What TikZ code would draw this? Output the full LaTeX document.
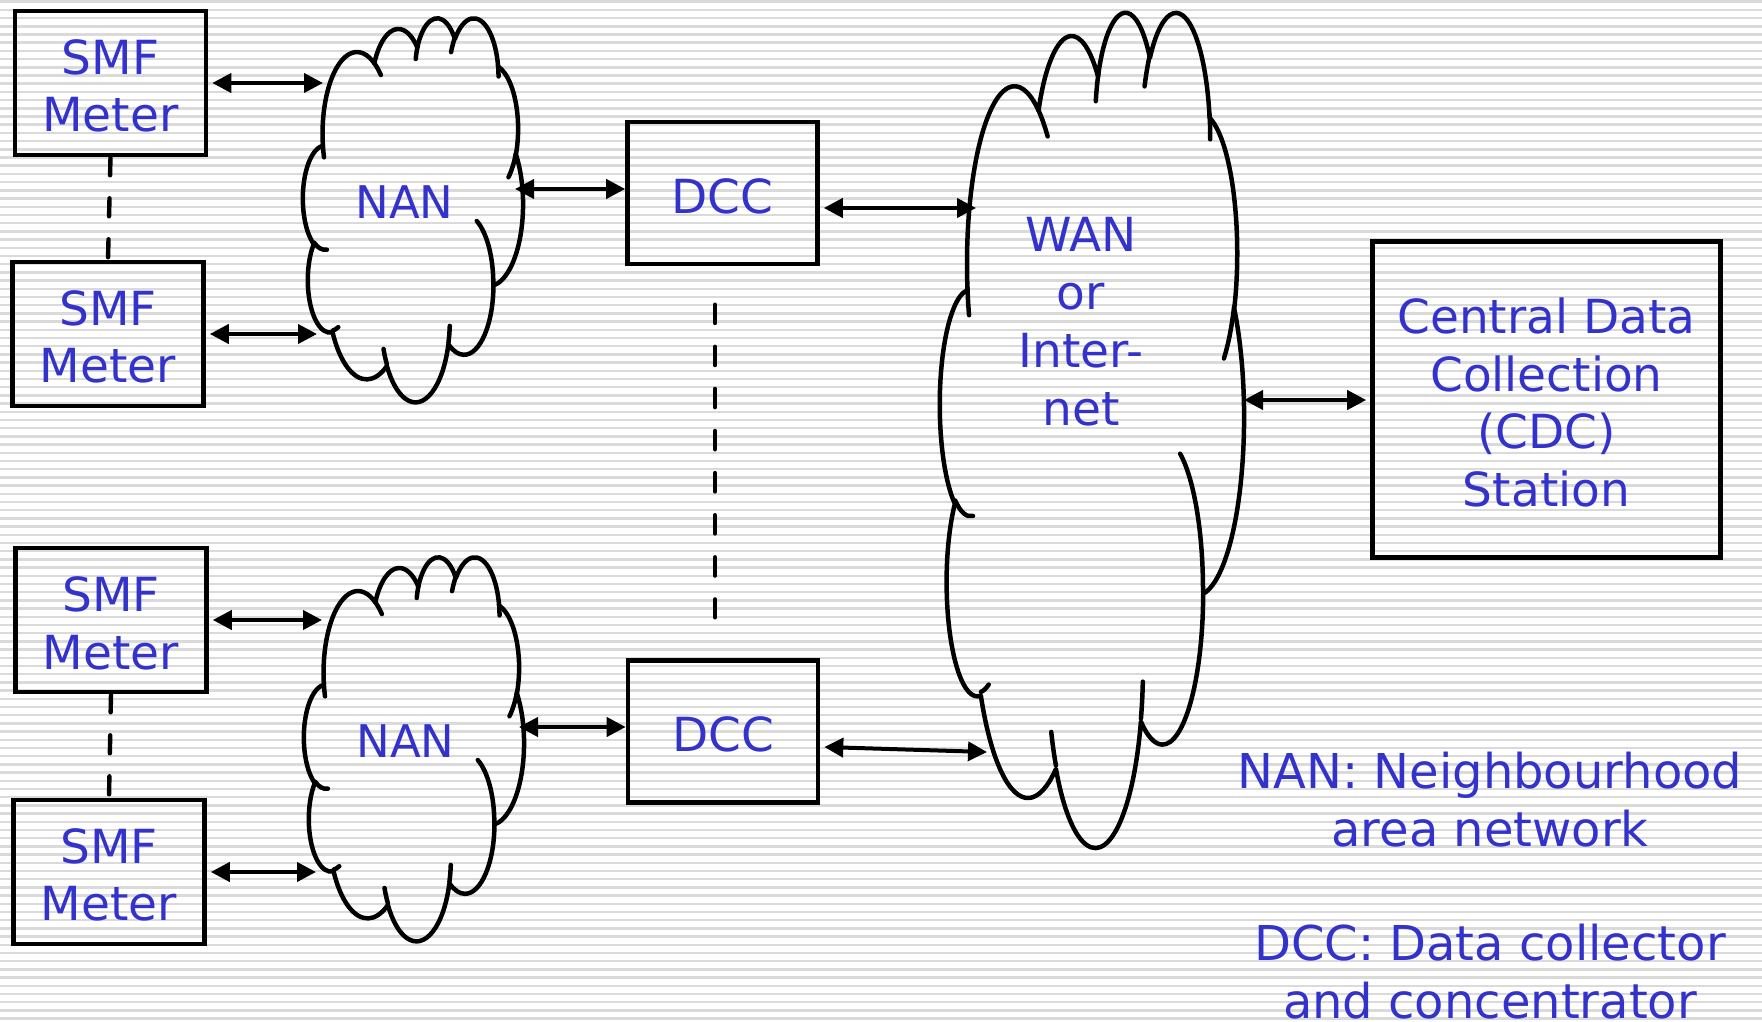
\documentclass[tikz,border=0pt]{standalone}
\usepackage{fontspec}
\setmainfont{DejaVu Sans}
\usetikzlibrary{arrows.meta}
\definecolor{textblue}{RGB}{51,51,204}
\definecolor{stripegray}{RGB}{218,218,218}

% visual (DrawingML) angles -> parametric angles, negated for a y-down picture
\newcommand\cldprep[6]{%
  \pgfmathsetmacro\cldA{#5}%
  \pgfmathsetmacro\cldB{(#5)+(#6)}%
  \pgfmathsetmacro\cldS{atan2((#3)*sin(\cldA),(#4)*cos(\cldA))}%
  \pgfmathsetmacro\cldS{(\cldS)+360*round(((\cldA)-(\cldS))/360)}%
  \pgfmathsetmacro\cldE{atan2((#3)*sin(\cldB),(#4)*cos(\cldB))}%
  \pgfmathsetmacro\cldE{(\cldE)+360*round(((\cldB)-(\cldE))/360)}%
  \pgfmathsetmacro\cldS{-1*(\cldS)}%
  \pgfmathsetmacro\cldE{-1*(\cldE)}%
  \xdef#1{\cldS}\xdef#2{\cldE}%
}
\cldprep\CaS\CaE{6753}{9190}{-190.4875}{123.7805}
\cldprep\CbS\CbE{5333}{7267}{-144.1024}{89.9452}
\cldprep\CcS\CcE{4365}{5945}{-145.8079}{99.7230}
\cldprep\CdS\CdE{4857}{6595}{-130.9861}{117.2417}
\cldprep\CeS\CeE{5333}{7273}{-78.7089}{109.0269}
\cldprep\CfS\CfE{6775}{9220}{-46.2673}{130.2690}
\cldprep\CgS\CgE{5785}{7867}{0.6250}{114.0333}
\cldprep\ChS\ChE{6752}{9215}{22.4516}{115.1726}
\cldprep\CiS\CiE{7720}{10543}{66.2426}{75.7110}
\cldprep\CjS\CjE{4360}{5918}{-274.9421}{146.7356}
\cldprep\CkS\CkE{4345}{5945}{-246.8285}{152.5189}
\cldprep\TaS\TaE{4345}{5945}{86.7420}{26.4295}
\cldprep\TbS\TbE{4360}{5918}{73.6105}{11.4475}
\cldprep\TcS\TcE{6752}{9215}{137.6242}{14.0811}
\cldprep\TdS\TdE{6752}{9215}{6.4533}{15.9984}
\cldprep\TeS\TeE{5785}{7867}{-70.2924}{70.9174}
\cldprep\TfS\TfE{5333}{7273}{30.3180}{27.7515}
\cldprep\TgS\TgE{4857}{6595}{-13.7443}{14.8589}
\cldprep\ThS\ThE{4857}{6595}{-149.1815}{18.1954}
\cldprep\TiS\TiE{4365}{5945}{-163.4943}{17.6864}
\cldprep\TjS\TjE{6753}{9190}{-66.7070}{12.3194}
\cldprep\TkS\TkE{6753}{9190}{157.6544}{11.8582}

\newcommand\drawcloud[4]{%
 \begin{scope}[shift={(#1,#2)}, xscale=#3/4320, yscale=#4/4320]
  \draw[cloudline] (390,1437)
   arc[start angle=\CaS, end angle=\CaE, x radius=675.3pt, y radius=919.0pt]
   arc[start angle=\CbS, end angle=\CbE, x radius=533.3pt, y radius=726.7pt]
   arc[start angle=\CcS, end angle=\CcE, x radius=436.5pt, y radius=594.5pt]
   arc[start angle=\CdS, end angle=\CdE, x radius=485.7pt, y radius=659.5pt]
   arc[start angle=\CeS, end angle=\CeE, x radius=533.3pt, y radius=727.3pt]
   arc[start angle=\CfS, end angle=\CfE, x radius=677.5pt, y radius=922.0pt]
   arc[start angle=\CgS, end angle=\CgE, x radius=578.5pt, y radius=786.7pt]
   arc[start angle=\ChS, end angle=\ChE, x radius=675.2pt, y radius=921.5pt]
   arc[start angle=\CiS, end angle=\CiE, x radius=772.0pt, y radius=1054.3pt]
   arc[start angle=\CjS, end angle=\CjE, x radius=436.0pt, y radius=591.8pt]
   arc[start angle=\CkS, end angle=\CkE, x radius=434.5pt, y radius=594.5pt]
   -- cycle;
  \draw[cloudline]
   (469.3,2617.7) arc[start angle=\TaS, end angle=\TaE, x radius=434.5pt, y radius=594.5pt]
   (692.8,3489.9) arc[start angle=\TbS, end angle=\TbE, x radius=436.0pt, y radius=591.8pt]
   (1647.8,3909.0) arc[start angle=\TcS, end angle=\TcE, x radius=675.2pt, y radius=921.5pt]
   (2882.7,3475.1) arc[start angle=\TdS, end angle=\TdE, x radius=675.2pt, y radius=921.5pt]
   (3412.9,2295.4) arc[start angle=\TeS, end angle=\TeE, x radius=578.5pt, y radius=786.7pt]
   (4179.8,1535.4) arc[start angle=\TfS, end angle=\TfE, x radius=533.3pt, y radius=727.3pt]
   (3832.4,542.6) arc[start angle=\TgS, end angle=\TgE, x radius=485.7pt, y radius=659.5pt]
   (2907.8,395.2) arc[start angle=\ThS, end angle=\ThE, x radius=485.7pt, y radius=659.5pt]
   (2214.1,472.0) arc[start angle=\TiS, end angle=\TiE, x radius=436.5pt, y radius=594.5pt]
   (1400.0,519.2) arc[start angle=\TjS, end angle=\TjE, x radius=675.3pt, y radius=919.0pt]
   (412.7,1578.9) arc[start angle=\TkS, end angle=\TkE, x radius=675.3pt, y radius=919.0pt];
 \end{scope}}

\newcommand\boxfont{\fontsize{47}{57.5}\selectfont}
\newcommand\legfont{\fontsize{48}{58}\selectfont}
% invisible strut that lowers the text block in its box a little
\newcommand\lowr[1]{\rule{0pt}{#1pt}}

\begin{document}
\begin{tikzpicture}[x=1pt, y=-1pt,
  cloudline/.style={draw, line width=4.5pt, line cap=round, line join=round},
  box/.style={draw, line width=4.6pt, inner sep=0pt, align=center, text=textblue, font=\boxfont},
  smfbox/.style={box, minimum width=191pt, minimum height=144pt},
  dccbox/.style={box, minimum width=190pt, minimum height=142pt},
  lbl/.style={inner sep=0pt, align=center, text=textblue, font=\boxfont},
  legend/.style={inner sep=0pt, align=center, text=textblue, font=\legfont},
  arr/.style={line width=4pt, {Triangle[length=19pt,width=19pt]}-{Triangle[length=19pt,width=19pt]}},
  dashline/.style={line width=4.4pt, line cap=round, dash pattern=on 18pt off 23pt},
  dccdash/.style={line width=4.4pt, line cap=round, dash pattern=on 18.3pt off 23.8pt}]
\useasboundingbox (0,0) rectangle (1762,1022);
\fill[white] (0,0) rectangle (1762,1022);
\foreach \k in {0,...,124} {\fill[stripegray] (0,{0.5+8.2*\k}) rectangle (1762,{3+8.2*\k});}

% clouds
\drawcloud{303}{17}{220}{384}
\drawcloud{304}{556}{220}{384}
\drawcloud{940}{10}{304}{835}

% boxes
\node[smfbox] (smf1) at (110.5,83) {\lowr{40.5}SMF\\Meter};
\node[smfbox] (smf2) at (108,334) {\lowr{40.5}SMF\\Meter};
\node[smfbox] (smf3) at (111,620) {\lowr{41.5}SMF\\Meter};
\node[smfbox] (smf4) at (109,872) {\lowr{40.5}SMF\\Meter};
\node[dccbox] (dcc1) at (722.5,193) {\lowr{42}DCC};
\node[dccbox] (dcc2) at (723,731.5) {\lowr{41}DCC};
\node[box, minimum width=348pt, minimum height=316pt] (cdc) at (1546.5,399.5) {\lowr{41.5}Central Data\\Collection\\(CDC)\\Station};

% cloud labels
\node[lbl, font=\fontsize{45}{57}\selectfont] (nan1) at (404.5,202.5) {NAN};
\node[lbl, font=\fontsize{45}{57}\selectfont] (nan2) at (405.5,741.5) {NAN};
\node[lbl, font=\fontsize{47}{58}\selectfont] (wan) at (1081,321.8) {WAN\\or\\Inter-\\net};

% legend
\node[legend] (leg1) at (1490,800) {NAN: Neighbourhood\\area network};
\node[legend] (leg2) at (1490,972) {DCC: Data collector\\and concentrator};

% cloud attachment points
\coordinate (n1a) at (323,83);
\coordinate (n1b) at (317,334);
\coordinate (n1c) at (515,189);
\coordinate (n2a) at (322,620);
\coordinate (n2b) at (316,872);
\coordinate (n2c) at (519,727);
\coordinate (w1) at (976,208);
\coordinate (w2) at (987,752);
\coordinate (w3) at (1244,400);
\coordinate (dd1) at (715,304.7);
\coordinate (dd2) at (715,617.3);

% connectors
\draw[arr] ([xshift=4pt]smf1.east) -- (n1a);
\draw[arr] ([xshift=4pt]smf2.east) -- (n1b);
\draw[arr] (n1c) -- (dcc1.west |- n1c);
\draw[arr] ([xshift=4pt]dcc1.east |- w1) -- (w1);
\draw[arr] ([xshift=4pt]smf3.east) -- (n2a);
\draw[arr] ([xshift=4pt]smf4.east) -- (n2b);
\draw[arr] (n2c) -- (dcc2.west |- n2c);
\draw[arr] ([xshift=4pt]dcc2.east |- 0,747) -- (w2);
\draw[arr] (w3) -- ([xshift=-4pt]cdc.west |- w3);

\draw[dashline] (smf1.south) -- (smf2.north);
\draw[dashline] (smf3.south) -- (smf4.north);
\draw[dccdash] (dd1) -- (dd2);
\end{tikzpicture}
\end{document}
